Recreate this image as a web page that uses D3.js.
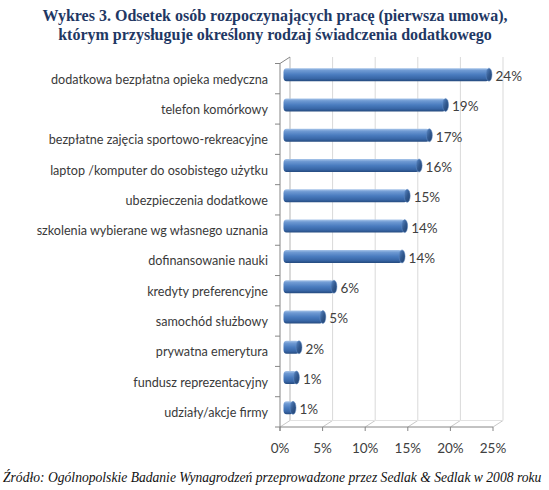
<!DOCTYPE html>
<html>
<head>
<meta charset="utf-8">
<script src="https://cdn.jsdelivr.net/npm/d3@7"></script>
<style>
  html, body { margin: 0; padding: 0; background: #ffffff; }
  svg { display: block; }
</style>
</head>
<body>
<svg id="chart" width="549" height="490"></svg>
<script>
const titleLines = [
  "Wykres 3. Odsetek osób rozpoczynających pracę (pierwsza umowa),",
  "którym przysługuje określony rodzaj świadczenia dodatkowego"
];
const sourceText = "Źródło: Ogólnopolskie Badanie Wynagrodzeń przeprowadzone przez Sedlak & Sedlak w 2008 roku";

const categories = [
  "dodatkowa bezpłatna opieka medyczna",
  "telefon komórkowy",
  "bezpłatne zajęcia sportowo-rekreacyjne",
  "laptop /komputer do osobistego użytku",
  "ubezpieczenia dodatkowe",
  "szkolenia wybierane wg własnego uznania",
  "dofinansowanie nauki",
  "kredyty preferencyjne",
  "samochód służbowy",
  "prywatna emerytura",
  "fundusz reprezentacyjny",
  "udziały/akcje firmy"
];
const values = [24.0, 18.9, 17.0, 15.8, 14.4, 14.1, 13.8, 5.8, 4.5, 1.7, 1.4, 1.0];
const valueLabels = ["24%", "19%", "17%", "16%", "15%", "14%", "14%", "6%", "5%", "2%", "1%", "1%"];
const xTicks = [0, 5, 10, 15, 20, 25];

const svg = d3.select("#chart");

// geometry
const frontLeft = 280, frontRight = 493;
const frontTop = 63.5, frontBottom = 427;
const depthX = 10, depthY = -6.5;

const xFront = d3.scaleLinear().domain([0, 25]).range([frontLeft, frontRight]);
const xBack = d3.scaleLinear().domain([0, 25]).range([frontLeft + depthX, frontRight + depthX]);
const xMid = d3.scaleLinear().domain([0, 25]).range([frontLeft + 4.5, frontRight + 4.5]);
const yBand = d3.scaleBand().domain(categories).range([frontTop, frontBottom]);

// gradients
const defs = svg.append("defs");
const g1 = defs.append("linearGradient").attr("id", "barGrad")
  .attr("x1", 0).attr("y1", 0).attr("x2", 0).attr("y2", 1);
[[0, "#a9c6ea"], [0.18, "#6f9ad3"], [0.5, "#4a7cbf"], [0.8, "#3866a6"], [1, "#254a7e"]]
  .forEach(([o, c]) => g1.append("stop").attr("offset", o).attr("stop-color", c));
const g2 = defs.append("linearGradient").attr("id", "capGrad")
  .attr("x1", 0).attr("y1", 0).attr("x2", 1).attr("y2", 1);
[[0, "#5d8bc8"], [0.5, "#32598f"], [1, "#1f3f6c"]]
  .forEach(([o, c]) => g2.append("stop").attr("offset", o).attr("stop-color", c));

// back wall gridlines
const grid = svg.append("g");
xTicks.forEach(t => {
  grid.append("line")
    .attr("x1", xBack(t)).attr("x2", xBack(t))
    .attr("y1", frontTop + depthY).attr("y2", frontBottom + depthY)
    .attr("stroke", t === 0 ? "#b5b5b5" : "#d9d9d9").attr("stroke-width", 1);
  // floor gridlines
  grid.append("line")
    .attr("x1", xFront(t)).attr("x2", xBack(t))
    .attr("y1", frontBottom).attr("y2", frontBottom + depthY)
    .attr("stroke", "#c8c8c8").attr("stroke-width", 1);
});
grid.append("line")
  .attr("x1", xBack(0)).attr("x2", xBack(25))
  .attr("y1", frontBottom + depthY).attr("y2", frontBottom + depthY)
  .attr("stroke", "#e2e2e2");

// axes
const axisColor = "#868686";
const ax = svg.append("g").attr("stroke", axisColor).attr("stroke-width", 1).attr("fill", "none");
ax.append("line").attr("x1", frontLeft).attr("x2", frontLeft)
  .attr("y1", frontTop).attr("y2", frontBottom + 4);
ax.append("line").attr("x1", frontLeft).attr("x2", frontLeft + depthX)
  .attr("y1", frontTop).attr("y2", frontTop + depthY);
ax.append("line").attr("x1", frontLeft).attr("x2", xFront(25))
  .attr("y1", frontBottom).attr("y2", frontBottom);
// y ticks at band boundaries
categories.forEach(c => {
  ax.append("line").attr("x1", frontLeft - 5).attr("x2", frontLeft)
    .attr("y1", yBand(c)).attr("y2", yBand(c));
});
ax.append("line").attr("x1", frontLeft - 5).attr("x2", frontLeft)
  .attr("y1", frontBottom).attr("y2", frontBottom);
// x ticks
xTicks.forEach(t => {
  ax.append("line").attr("x1", xFront(t)).attr("x2", xFront(t))
    .attr("y1", frontBottom).attr("y2", frontBottom + 4);
});

// bars
const barH = 13;
const bars = svg.append("g");
categories.forEach((c, i) => {
  const cy = yBand(c) + yBand.bandwidth() / 2 - 4;
  const x0 = xMid(0) - 1;
  const x1 = xMid(values[i]);
  const g = bars.append("g");
  g.append("rect")
    .attr("x", x0).attr("y", cy - barH / 2)
    .attr("width", Math.max(x1 - x0, 3)).attr("height", barH)
    .attr("rx", 3).attr("ry", 4)
    .attr("fill", "url(#barGrad)");
  g.append("ellipse")
    .attr("cx", x1).attr("cy", cy)
    .attr("rx", 3).attr("ry", barH / 2)
    .attr("fill", "url(#capGrad)")
    .attr("stroke", "#5f8ac4").attr("stroke-width", 0.5);
  // value label
  svg.append("text")
    .attr("x", x1 + 6.5).attr("y", cy + 6.5)
    .attr("font-family", "Lato, 'Open Sans', sans-serif")
    .attr("font-size", 13.5)
    .attr("fill", "#404040")
    .text(valueLabels[i]);
  // category label
  svg.append("text")
    .attr("x", 268).attr("y", yBand(c) + yBand.bandwidth() / 2 + 5)
    .attr("text-anchor", "end")
    .attr("font-family", "Lato, 'Open Sans', sans-serif")
    .attr("font-size", 12.6)
    .attr("fill", "#3a3a3a")
    .text(c);
});

// x tick labels
xTicks.forEach(t => {
  svg.append("text")
    .attr("x", xFront(t)).attr("y", 453)
    .attr("text-anchor", "middle")
    .attr("font-family", "Lato, 'Open Sans', sans-serif")
    .attr("font-size", 13.5)
    .attr("fill", "#404040")
    .text(t + "%");
});

// title
titleLines.forEach((l, i) => {
  svg.append("text")
    .attr("x", 275).attr("y", 21 + i * 19)
    .attr("text-anchor", "middle")
    .attr("font-family", "'Liberation Serif', 'Times New Roman', serif")
    .attr("font-weight", "bold")
    .attr("font-size", 16)
    .attr("fill", "#1f3864")
    .text(l);
});

// source
svg.append("text")
  .attr("x", 3).attr("y", 482)
  .attr("font-family", "'Liberation Serif', 'Times New Roman', serif")
  .attr("font-style", "italic")
  .attr("font-size", 13.6)
  .attr("fill", "#111111")
  .text(sourceText);
</script>
</body>
</html>
